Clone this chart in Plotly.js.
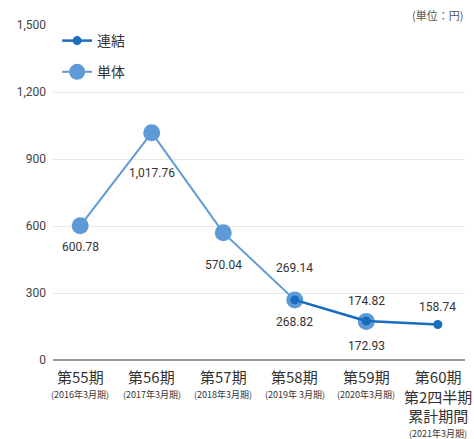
<!DOCTYPE html>
<html><head><meta charset="utf-8">
<script src="https://cdn.plot.ly/plotly-3.0.1.min.js"></script>
<style>body{margin:0;background:#fff}#c{width:474px;height:439px}</style>
</head><body><div id="c"></div>
<script>
const categories = ["第55期","第56期","第57期","第58期","第59期","第60期"];
const mainLabels = ["第55期","第56期","第57期","第58期","第59期","第60期<br>第2四半期<br>累計期間"];
const subLabels = ["(2016年3月期)","(2017年3月期)","(2018年3月期)","(2019年 3月期)","(2020年3月期)","(2021年3月期)"];
const tantaiX = ["第55期","第56期","第57期","第58期","第59期"];
const tantaiY = [600.78, 1017.76, 570.04, 268.82, 172.93];
const renketsuX = ["第58期","第59期","第60期"];
const renketsuY = [269.14, 174.82, 158.74];
const yTicks = [0, 300, 600, 900, 1200, 1500];
// label vertical offsets (layout only)
const tantaiLabelShift = [-21, -40, -32, -22, -25];
const renketsuLabelShift = [32, 20, 18];

const fmt = v => v.toLocaleString('en-US',{minimumFractionDigits:2,maximumFractionDigits:2});
const light = '#5e9bd6', dark = '#1a6dbd';
const jp = '"Noto Sans CJK JP", sans-serif';
const narrow = '"Liberation Sans Narrow", "Roboto", sans-serif';

const traces = [
  {x: tantaiX, y: tantaiY, name: '単体', type:'scatter', mode:'lines+markers', legendgroup:'b',
   line:{color:light, width:2}, marker:{color:light, size:17}, legendrank:2, cliponaxis:false, hoverinfo:'skip'},
  {x: renketsuX, y: renketsuY, name: '連結', type:'scatter', mode:'lines+markers', legendgroup:'a',
   line:{color:dark, width:2.5}, marker:{color:dark, size:9}, legendrank:1, cliponaxis:false, hoverinfo:'skip'}
];

const ann = [];
tantaiX.forEach((c,i)=>ann.push({x:c, y:tantaiY[i], xref:'x', yref:'y', text:fmt(tantaiY[i]), showarrow:false,
  yshift:tantaiLabelShift[i], font:{family:narrow, size:12, color:'#333'}}));
renketsuX.forEach((c,i)=>ann.push({x:c, y:renketsuY[i], xref:'x', yref:'y', text:fmt(renketsuY[i]), showarrow:false,
  yshift:renketsuLabelShift[i], font:{family:narrow, size:12, color:'#333'}}));
categories.forEach((c,i)=>{
  const nLines = mainLabels[i].split('<br>').length;
  ann.push({x:c, y:0, xref:'x', yref:'paper', yanchor:'top', yshift:-4, showarrow:false,
    text:mainLabels[i], font:{family:jp, size:15, color:'#333'}});
  ann.push({x:c, y:0, xref:'x', yref:'paper', yanchor:'top', yshift:-26 - (nLines-1)*19.5, showarrow:false,
    text:subLabels[i], font:{family:jp, size:9, color:'#333'}});
});
ann.push({x:1, y:1.03, xref:'paper', yref:'paper', xanchor:'right', yanchor:'middle', showarrow:false,
  text:'(単位：円)', font:{family:jp, size:11, color:'#555'}});

const layout = {
  width:474, height:439, margin:{l:53, r:9, t:25, b:79},
  paper_bgcolor:'#fff', plot_bgcolor:'#fff', showlegend:true,
  legend:{x:0.01, y:1.0, xanchor:'left', yanchor:'top', font:{family:jp, size:14, color:'#333'},
    bgcolor:'rgba(0,0,0,0)', tracegroupgap:10, traceorder:'grouped', itemwidth:30},
  xaxis:{type:'category', range:[-0.38, 5.38], showticklabels:false, showgrid:false, zeroline:false,
    showline:false, fixedrange:true},
  yaxis:{range:[0,1500], tickvals:yTicks, tickformat:',', showgrid:true, gridcolor:'#e8e8e8', gridwidth:1,
    zeroline:true, zerolinecolor:'#999', zerolinewidth:2, showline:false, ticks:'', ticklabelstandoff:6,
    tickfont:{family:narrow, size:12, color:'#444'}, fixedrange:true},
  annotations: ann
};
Plotly.newPlot('c', traces, layout, {staticPlot:true});
</script></body></html>
